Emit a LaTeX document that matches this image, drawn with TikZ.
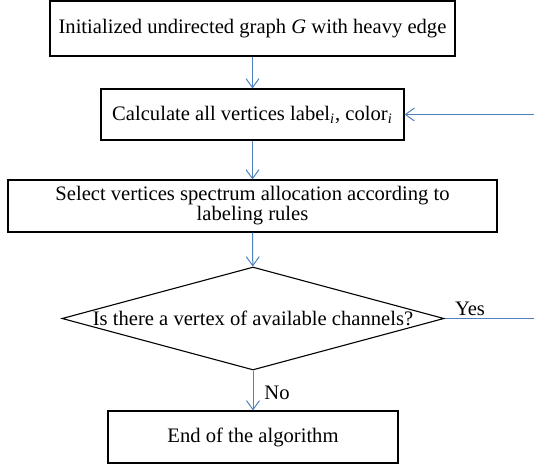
\documentclass[tikz,border=0pt]{standalone}
\usepackage{fontspec}
\setmainfont{Liberation Serif}
\usetikzlibrary{shapes.geometric,arrows.meta}
\definecolor{flowblue}{RGB}{79,129,189}
\tikzset{
  stepbox/.style={draw,line width=0.55pt,inner sep=0pt,align=center},
  flow/.style={draw=flowblue,line width=0.5pt,-{Straight Barb[length=4.5pt,width=6.5pt]}},
}
\newcommand{\idx}{\textsubscript{\textit{i}}}
\begin{document}
\begin{tikzpicture}[x=0.5pt,y=-0.5pt,font=\fontsize{10.3pt}{10pt}\selectfont]
\useasboundingbox (0,0) rectangle (534,466);
%boxes
\node[stepbox,minimum width=202.5pt,minimum height=27.5pt] (init) at (252.5,28.5) {Initialized undirected graph \textit{G} with heavy edge};
\node[stepbox,minimum width=151.5pt,minimum height=25.5pt] (calc) at (252.5,114.5) {Calculate all vertices label\idx, color\idx};
\node[stepbox,minimum width=244.5pt,minimum height=26pt] (select) at (252.5,206) {Select vertices spectrum allocation according to\\labeling rules};
\node[draw,diamond,line width=0.55pt,minimum width=191pt,minimum height=51.5pt,inner sep=0pt,
      label=center:{Is there a vertex of available channels?}] (test) at (253,318.5) {};
\node[stepbox,minimum width=145pt,minimum height=26pt] (stop) at (253,437) {End of the algorithm};
%arrows
\draw[flow] (init) -- (calc);
\draw[flow] (calc) -- (select);
\draw[flow] (select) -- (test);
\draw[flow] (test) -- (stop);
\coordinate (backa) at (540,318.5);
\coordinate (backb) at (540,114.5);
\draw[flow] (test.east) -- (backa) -- (backb) -- (calc.east);
\node[] (yes) at (470,309) {Yes};
\node[] (no) at (277,393) {No};
\end{tikzpicture}
\end{document}
